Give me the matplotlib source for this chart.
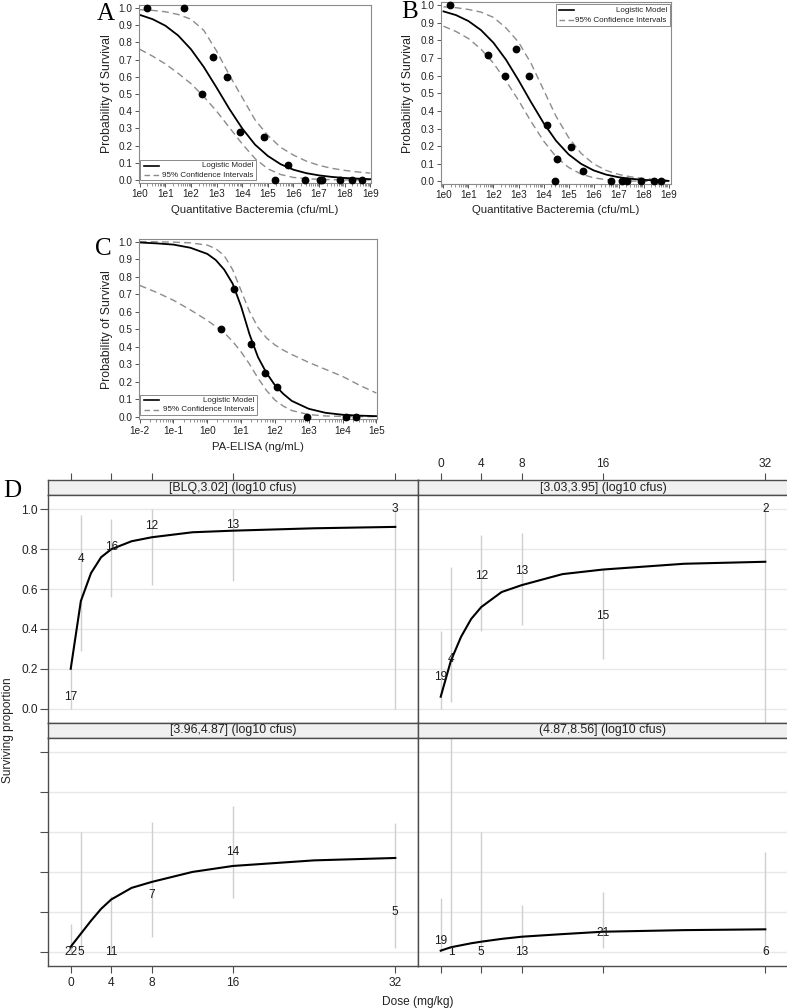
import matplotlib
matplotlib.use('Agg')
import matplotlib.pyplot as plt
import numpy as np
from matplotlib.patches import Rectangle
from matplotlib.lines import Line2D
from matplotlib.ticker import FixedLocator, FuncFormatter, LogLocator, NullFormatter

plt.rcParams['font.family'] = ['Liberation Sans', 'DejaVu Sans']

# ---- panel A: quantitative bacteremia (log10 cfu/mL) ----
a_grid = [0, 0.5, 1, 1.5, 2, 2.5, 3, 3.5, 4, 4.5, 5, 5.5, 6, 6.5, 7, 7.5, 8, 8.5, 9]
a_fit = [0.96, 0.935, 0.897, 0.84, 0.76, 0.657, 0.537, 0.413, 0.30, 0.206, 0.14, 0.092,
         0.06, 0.04, 0.027, 0.018, 0.012, 0.008, 0.005]
a_hi = [0.99, 0.986, 0.978, 0.962, 0.935, 0.87, 0.75, 0.61, 0.48, 0.35, 0.26, 0.19,
        0.145, 0.11, 0.085, 0.068, 0.056, 0.047, 0.04]
a_lo = [0.76, 0.72, 0.675, 0.62, 0.56, 0.485, 0.40, 0.305, 0.21, 0.125, 0.065, 0.032,
        0.015, 0.008, 0.004, 0.002, 0.001, 0.0005, 0.0003]
a_obs_logx = [0.3, 1.73, 2.42, 2.85, 3.42, 3.92, 4.87, 5.3, 5.79, 6.47, 7.05, 7.12, 7.8, 8.27, 8.68]
a_obs_y = [1.0, 1.0, 0.5, 0.714, 0.6, 0.278, 0.25, 0.0, 0.09, 0.0, 0.0, 0.0, 0.0, 0.0, 0.0]

# ---- panel B ----
b_grid = a_grid
b_fit = [0.964, 0.943, 0.909, 0.858, 0.786, 0.69, 0.574, 0.45, 0.332, 0.231, 0.154, 0.10,
         0.063, 0.039, 0.024, 0.015, 0.009, 0.0055, 0.0034]
b_hi = [0.99, 0.985, 0.975, 0.96, 0.93, 0.87, 0.79, 0.67, 0.52, 0.37, 0.25, 0.16,
        0.10, 0.063, 0.04, 0.026, 0.017, 0.011, 0.007]
b_lo = [0.88, 0.85, 0.81, 0.75, 0.67, 0.57, 0.46, 0.34, 0.23, 0.14, 0.08, 0.042,
        0.021, 0.01, 0.005, 0.0025, 0.0012, 0.0006, 0.0003]
b_obs_logx = [0.28, 1.8, 2.47, 2.9, 3.41, 4.14, 4.54, 5.1, 5.58, 4.46, 6.7, 7.14, 7.34, 7.9, 8.42, 8.7]
b_obs_y = [1.0, 0.714, 0.6, 0.75, 0.6, 0.32, 0.125, 0.195, 0.06, 0.0, 0.0, 0.0, 0.0, 0.0, 0.0, 0.0]

# ---- panel C: PA-ELISA (log10 ng/mL) ----
c_grid = [-2, -1.5, -1, -0.5, 0, 0.25, 0.5, 0.75, 1.0, 1.25, 1.5, 1.75, 2.0, 2.25, 2.5,
          3.0, 3.5, 4.0, 4.5, 5.0]
c_fit = [0.995, 0.99, 0.983, 0.965, 0.93, 0.895, 0.84, 0.76, 0.63, 0.47, 0.34, 0.25, 0.18,
         0.13, 0.09, 0.045, 0.022, 0.011, 0.006, 0.003]
c_hi = [1.0, 0.999, 0.997, 0.993, 0.98, 0.96, 0.92, 0.84, 0.72, 0.60, 0.51, 0.45, 0.41,
        0.38, 0.355, 0.31, 0.27, 0.23, 0.18, 0.135]
c_lo = [0.75, 0.71, 0.665, 0.61, 0.55, 0.515, 0.48, 0.43, 0.37, 0.30, 0.22, 0.15, 0.095,
        0.06, 0.035, 0.012, 0.004, 0.0015, 0.0005, 0.0002]
c_obs_logx = [0.40, 0.78, 1.29, 1.70, 2.07, 2.95, 4.1, 4.4]
c_obs_y = [0.5, 0.727, 0.417, 0.25, 0.167, 0.0, 0.0, 0.0]

# ---- panel D: dose response by bacteremia stratum ----
strata = ['[BLQ,3.02] (log10 cfus)', '[3.03,3.95] (log10 cfus)',
          '[3.96,4.87] (log10 cfus)', '(4.87,8.56] (log10 cfus)']
doses = [0, 1, 4, 8, 16, 32]
d_n = [[17, 4, 16, 12, 13, 3],
       [19, 4, 12, 13, 15, 2],
       [22, 5, 11, 7, 14, 5],
       [19, 1, 5, 13, 21, 6]]
d_p = [[0.059, 0.75, 0.8125, 0.917, 0.923, 1.0],
       [0.158, 0.25, 0.667, 0.692, 0.467, 1.0],
       [0.0, 0.0, 0.0, 0.286, 0.5, 0.2],
       [0.053, 0.0, 0.0, 0.0, 0.095, 0.0]]
d_lo = [[0.0, 0.29, 0.56, 0.62, 0.64, 0.0],
        [0.0, 0.035, 0.39, 0.42, 0.25, -0.1],
        [0.0, 0.0, 0.0, 0.075, 0.27, 0.02],
        [0.0, 0.0, 0.0, 0.0, 0.017, 0.0]]
d_hi = [[0.21, 0.97, 0.95, 1.0, 1.0, 1.0],
        [0.39, 0.71, 0.87, 0.88, 0.70, 1.02],
        [0.14, 0.6, 0.28, 0.65, 0.73, 0.645],
        [0.27, 1.1, 0.6, 0.235, 0.30, 0.5]]
fit_dose = [0, 1, 2, 3, 4, 6, 8, 12, 16, 24, 32]
d_fit = [[0.20, 0.54, 0.68, 0.76, 0.80, 0.84, 0.86, 0.885, 0.893, 0.905, 0.912],
         [0.06, 0.24, 0.36, 0.45, 0.51, 0.585, 0.62, 0.675, 0.698, 0.727, 0.737],
         [0.025, 0.09, 0.155, 0.215, 0.262, 0.32, 0.35, 0.40, 0.43, 0.458, 0.47],
         [0.005, 0.022, 0.032, 0.042, 0.05, 0.064, 0.075, 0.088, 0.10, 0.108, 0.112]]
dose_ticks = [0, 4, 8, 16, 32]
prop_ticks = [0.0, 0.2, 0.4, 0.6, 0.8, 1.0]

W, H = 787, 1008
fig = plt.figure(figsize=(W / 100, H / 100), dpi=100)


def px_axes(l, t, r, b):
    return fig.add_axes([l / W, 1 - b / H, (r - l) / W, (b - t) / H])


def draw_key(ax, x0, y0, x1, y1):
    ax.add_patch(Rectangle((x0, y0), x1 - x0, y1 - y0, transform=ax.transAxes,
                           fc='white', ec='#8a8a8a', lw=0.7, zorder=7))
    ya = y0 + 0.73 * (y1 - y0)
    yb = y0 + 0.27 * (y1 - y0)
    ax.add_line(Line2D([x0 + 0.015, x0 + 0.08], [ya, ya], transform=ax.transAxes,
                       color='black', lw=1.2, zorder=8))
    ax.add_line(Line2D([x0 + 0.015, x0 + 0.08], [yb, yb], transform=ax.transAxes,
                       color='#8c8c8c', lw=1.0, ls=(0, (4, 2.5)), zorder=8))
    ax.text(x1 - 0.012, ya, 'Logistic Model', transform=ax.transAxes, ha='right',
            va='center', fontsize=5.8, color='#222', zorder=8)
    ax.text(x1 - 0.012, yb, '95% Confidence Intervals', transform=ax.transAxes,
            ha='right', va='center', fontsize=5.8, color='#222', zorder=8)


def logistic_panel(ax, grid, fit, lo, hi, ox, oy, xmin, xmax, pad, xlabel, ylab_x, xlab_y):
    x = 10.0 ** np.array(grid)
    ax.plot(x, lo, ls=(0, (5, 3)), color='#8c8c8c', lw=1.0)
    ax.plot(x, hi, ls=(0, (5, 3)), color='#8c8c8c', lw=1.0)
    ax.plot(x, fit, color='black', lw=1.3)
    ax.plot(10.0 ** np.array(ox), oy, 'o', color='black', ms=4.6, clip_on=False, zorder=6)
    ax.set_xscale('log')
    ax.set_xlim(10 ** (xmin - pad), 10 ** (xmax + pad))
    ax.set_ylim(-0.015, 1.015)
    ax.xaxis.set_major_locator(FixedLocator(10.0 ** np.arange(xmin, xmax + 1)))
    ax.xaxis.set_major_formatter(FuncFormatter(lambda v, pos: '1e%d' % round(np.log10(v))))
    ax.xaxis.set_minor_locator(LogLocator(base=10, subs=np.arange(2, 10), numticks=100))
    ax.xaxis.set_minor_formatter(NullFormatter())
    ax.set_yticks(np.arange(0, 1.01, 0.1))
    ax.yaxis.set_major_formatter(FuncFormatter(lambda v, pos: '%.1f' % v))
    ax.tick_params(which='major', length=3, width=0.7, labelsize=7.2, pad=1.5,
                   color='#555', labelcolor='#222')
    ax.tick_params(which='minor', length=1.8, width=0.5, color='#666')
    for s in ax.spines.values():
        s.set_color('#8a8a8a')
        s.set_linewidth(0.8)
    ax.set_ylabel('Probability of Survival', fontsize=8.8, color='#222')
    ax.yaxis.label.set_va('center')
    ax.yaxis.set_label_coords(ylab_x, 0.5)
    ax.set_xlabel(xlabel, fontsize=8.2, color='#222')
    ax.xaxis.label.set_va('center')
    ax.xaxis.set_label_coords(0.5, xlab_y)


axA = px_axes(139, 5.4, 371, 182.6)
logistic_panel(axA, a_grid, a_fit, a_lo, a_hi, a_obs_logx, a_obs_y, 0, 9, 0.03,
               'Quantitative Bacteremia (cfu/mL)', -0.14, -0.155)
draw_key(axA, 0.006, 0.012, 0.505, 0.125)

axB = px_axes(441, 2.4, 671, 184.1)
logistic_panel(axB, b_grid, b_fit, b_lo, b_hi, b_obs_logx, b_obs_y, 0, 9, 0.1,
               'Quantitative Bacteremia (cfu/mL)', -0.145, -0.143)
draw_key(axB, 0.5, 0.868, 0.994, 0.99)

axC = px_axes(139, 239, 377, 419.3)
logistic_panel(axC, c_grid, c_fit, c_lo, c_hi, c_obs_logx, c_obs_y, -2, 5, 0.02,
               'PA-ELISA (ng/mL)', -0.136, -0.154)
draw_key(axC, 0.006, 0.024, 0.495, 0.135)

for letter, (lx, ly) in zip('ABCD', [(106, 14), (410, 12), (103, 249), (12, 491)]):
    fig.text(lx / W, 1 - ly / H, letter, family=['Liberation Serif', 'DejaVu Serif'],
             fontsize=18, ha='center', va='center')

# ---- panel D lattice ----
cols = [(48, 418), (418, 788)]
rows = [(480, 495, 723), (723, 738, 966)]
xlim_d = (-2.24, 34.24)
ylim_d = (-0.072, 1.072)
edge = '#4d4d4d'
for k in range(4):
    r, c = divmod(k, 2)
    l, rr = cols[c]
    st, pt, pb = rows[r]
    strip = px_axes(l, st, rr, pt)
    ax = px_axes(l, pt, rr, pb)

    strip.set_facecolor('#f0f0f0')
    strip.set_xlim(xlim_d)
    strip.set_yticks([])
    strip.text(0.5, 0.5, strata[k], transform=strip.transAxes, ha='center', va='center',
               fontsize=8.9, color='#222')
    for s in strip.spines.values():
        s.set_color(edge)
        s.set_linewidth(1.0)
    if r == 0:
        strip.xaxis.tick_top()
        strip.set_xticks(dose_ticks)
        strip.tick_params(axis='x', direction='out', length=4.8, width=0.8, color=edge,
                          labelsize=8.6, pad=2.5, labeltop=(c == 1), labelcolor='#222')
    else:
        strip.set_xticks([])

    ax.set_xlim(xlim_d)
    ax.set_ylim(ylim_d)
    ax.set_yticks(prop_ticks)
    ax.grid(axis='y', color='#e8e8e8', lw=1.0)
    ax.set_axisbelow(True)
    ax.vlines(doses, d_lo[k], d_hi[k], color='#cfcfcf', lw=1.0, zorder=2)
    ax.plot(fit_dose, d_fit[k], color='black', lw=1.5, zorder=3)
    for d, p, n in zip(doses, d_p[k], d_n[k]):
        ax.text(d, p, str(n), ha='center', va='center', fontsize=8.6, color='#1a1a1a', zorder=4)
    for s in ax.spines.values():
        s.set_color(edge)
        s.set_linewidth(1.0)
    ax.yaxis.set_major_formatter(FuncFormatter(lambda v, pos: '%.1f' % v))
    if c == 0:
        ax.tick_params(axis='y', direction='out', length=5.5, width=0.8, color=edge,
                       labelsize=8.6, pad=2, labelleft=(r == 0), labelcolor='#222')
    else:
        ax.tick_params(axis='y', left=False, labelleft=False)
    if r == 1:
        ax.set_xticks(dose_ticks)
        ax.tick_params(axis='x', direction='out', length=4.8, width=0.8, color=edge,
                       labelsize=8.6, pad=3, labelbottom=(c == 0), labelcolor='#222')
    else:
        ax.set_xticks([])

fig.text(8 / W, 1 - 730 / H, 'Surviving proportion', rotation=90, ha='center', va='center',
         fontsize=8.6, color='#222')
fig.text(418 / W, 1 - 1002 / H, 'Dose (mg/kg)', ha='center', va='center',
         fontsize=8.6, color='#222')

fig.savefig('out.png', dpi=100)
